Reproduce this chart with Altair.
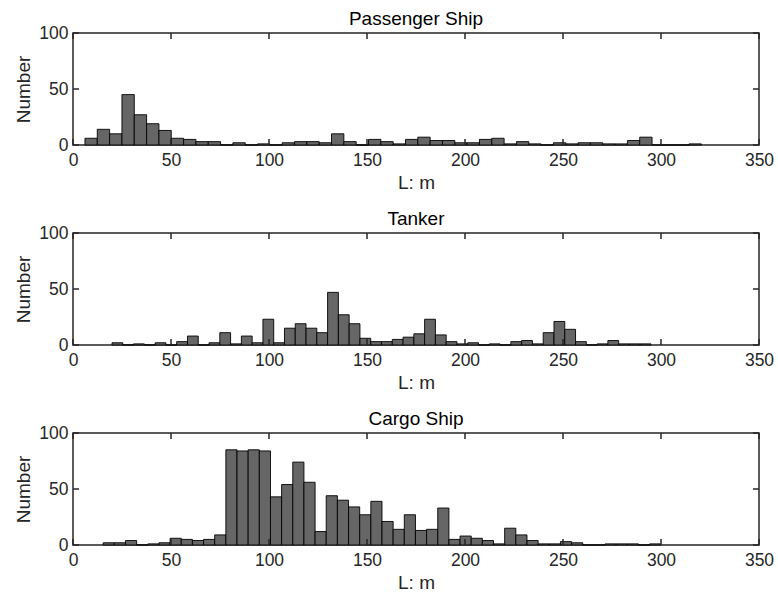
import altair as alt
import pandas as pd

# ---- data ----
panel_titles = ["Passenger Ship", "Tanker", "Cargo Ship"]
x_ticks = [0, 50, 100, 150, 200, 250, 300, 350]
y_ticks = [0, 50, 100]

passenger_bin_start = 6.1
passenger_bin_width = 6.29
passenger_counts = [6, 14, 10, 45, 27, 19, 13, 6, 5, 3,
                    3, 0, 2, 0, 1, 0, 2, 3, 3, 2,
                    10, 3, 0, 5, 3, 1, 5, 7, 4, 4,
                    2, 2, 5, 6, 1, 3, 1, 0, 2, 1,
                    2, 2, 1, 1, 4, 7, 0, 0, 0, 1]

tanker_bin_start = 19.9
tanker_bin_width = 5.5
tanker_counts = [2, 0, 1, 0, 2, 0, 3, 8, 0, 2,
                 11, 1, 8, 2, 23, 2, 15, 19, 15, 11,
                 47, 27, 19, 6, 3, 3, 5, 7, 10, 23,
                 9, 3, 1, 2, 0, 1, 0, 3, 4, 1,
                 11, 21, 14, 3, 0, 1, 4, 1, 1, 1]

cargo_bin_start = 15.4
cargo_bin_width = 5.69
cargo_counts = [2, 2, 4, 0, 1, 2, 6, 5, 4, 5,
                9, 85, 84, 85, 84, 43, 54, 74, 56, 12,
                44, 40, 34, 27, 39, 21, 14, 27, 13, 14,
                33, 5, 8, 6, 4, 1, 15, 9, 4, 1,
                1, 3, 2, 0, 0, 1, 1, 1, 0, 1]

# ---- styling ----
W, H = 686, 112
FONT = "Liberation Sans"
AX = "#262626"
TICK_LEN = 6

x_axis = alt.Axis(values=x_ticks, title="L: m", ticks=False, domain=False,
                  grid=False, labelPadding=6, titlePadding=5,
                  labelFontSize=17.5, titleFontSize=19,
                  labelFont=FONT, titleFont=FONT,
                  labelColor=AX, titleColor=AX,
                  titleFontWeight="normal", labelFlush=False)
y_axis = alt.Axis(values=y_ticks, title="Number", ticks=False, domain=False,
                  grid=False, labelPadding=5, titlePadding=5,
                  labelFontSize=17.5, titleFontSize=19,
                  labelFont=FONT, titleFont=FONT,
                  labelColor=AX, titleColor=AX,
                  titleFontWeight="normal", labelFlush=False)


def panel(title, counts, start, width):
    df = pd.DataFrame({
        "left": [start + i * width for i in range(len(counts))],
        "count": counts,
    })
    df["right"] = df["left"] + width
    xs = alt.Scale(domain=[0, 350], nice=False, zero=False)
    ys = alt.Scale(domain=[0, 100], nice=False)

    bars = alt.Chart(df).mark_bar(
        fill="#666666", stroke="#000000", strokeWidth=0.9, opacity=1
    ).encode(
        x=alt.X("left:Q", scale=xs, axis=x_axis),
        x2="right:Q",
        y=alt.Y("count:Q", scale=ys, axis=y_axis),
        y2=alt.datum(0),
    )

    xt = pd.DataFrame({"t": x_ticks})
    yt = pd.DataFrame({"v": y_ticks})
    tick_style = dict(color=AX, strokeWidth=1.5)
    xb = alt.Chart(xt).mark_rule(**tick_style).encode(
        x=alt.X("t:Q", scale=xs, axis=x_axis), y=alt.value(H), y2=alt.value(H - TICK_LEN))
    xtop = alt.Chart(xt).mark_rule(**tick_style).encode(
        x=alt.X("t:Q", scale=xs, axis=x_axis), y=alt.value(0), y2=alt.value(TICK_LEN))
    yl = alt.Chart(yt).mark_rule(**tick_style).encode(
        y=alt.Y("v:Q", scale=ys, axis=y_axis), x=alt.value(0), x2=alt.value(TICK_LEN))
    yr = alt.Chart(yt).mark_rule(**tick_style).encode(
        y=alt.Y("v:Q", scale=ys, axis=y_axis), x=alt.value(W), x2=alt.value(W - TICK_LEN))

    return alt.layer(bars, xb, xtop, yl, yr).properties(
        width=W, height=H,
        title=alt.TitleParams(title, fontSize=19, fontWeight="normal", font=FONT,
                              color="#000000", offset=-5, frame="group"),
    )


p1 = panel(panel_titles[0], passenger_counts, passenger_bin_start, passenger_bin_width)
p2 = panel(panel_titles[1], tanker_counts, tanker_bin_start, tanker_bin_width)
p3 = panel(panel_titles[2], cargo_counts, cargo_bin_start, cargo_bin_width)

chart = alt.vconcat(p1, p2, p3, spacing=88, bounds="flush").properties(
    padding={"left": 14, "top": 9, "right": 0, "bottom": 0},
    background="#ffffff",
).configure_view(stroke=AX, strokeWidth=1.5)

chart.save("out.html", embed_options={"renderer": "svg", "actions": False})
